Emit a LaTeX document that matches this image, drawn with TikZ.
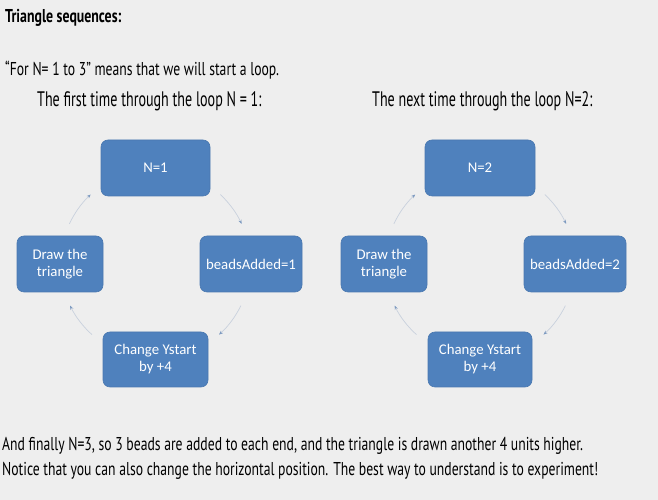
\documentclass[tikz,border=0pt]{standalone}
\usepackage{fontspec}
\usetikzlibrary{arrows.meta,calc}
\newfontfamily\slidefont[FakeStretch=0.735]{PT Sans}
\newfontfamily\slidebold[FakeStretch=0.745]{PT Sans Bold}
\newfontfamily\bigfont[FakeStretch=0.67]{PT Sans}
\newfontfamily\boxfont{Carlito}
\definecolor{bgcol}{HTML}{EEEEEE}
\definecolor{boxblue}{HTML}{4F81BD}
\definecolor{boxedge}{HTML}{4A78B0}
\definecolor{arcline}{HTML}{C9D1DD}
\definecolor{arctip}{HTML}{7D9AC0}
\begin{document}
\begin{tikzpicture}[x=1pt,y=1pt,
  stepbox/.style={draw=boxedge,line width=0.6pt,fill=boxblue,rounded corners=7pt,
    text=white,align=center,inner sep=0pt,
    font=\boxfont\fontsize{14.8pt}{17pt}\selectfont},
  cyc/.style={draw=arcline,line width=0.7pt,-{Stealth[length=4pt,width=3.2pt,color=arctip]}},
  txt/.style={anchor=base west,inner sep=0pt,text=black,font=\slidefont\fontsize{18.6pt}{22pt}\selectfont},
  bigtxt/.style={anchor=base west,inner sep=0pt,text=black,font=\bigfont\fontsize{21pt}{24pt}\selectfont}]
\useasboundingbox (0,0) rectangle (658,500);
\fill[bgcol] (0,0) rectangle (658,500);
% texts
\node[txt,font=\slidebold\fontsize{18.6pt}{22pt}\selectfont] (title) at (5,477) {Triangle sequences:};
\node[txt] (intro) at (5,424) {“For N= 1 to 3” means that we will start a loop.};
\node[bigtxt] (first) at (37,393) {The first time through the loop N = 1:};
\node[bigtxt] (next) at (372,393) {The next time through the loop N=2:};
\node[txt] (fin1) at (2,49) {And finally N=3, so 3 beads are added to each end, and the triangle is drawn another 4 units higher.};
\node[txt] (fin2) at (2,24) {Notice that you can also change the horizontal position. The best way to understand is to experiment!};
% left cycle
\coordinate (cl) at (155.5,236);
\node[stepbox,minimum width=109pt,minimum height=56pt] (nl) at (155.5,332) {N=1};
\node[stepbox,minimum width=102pt,minimum height=56pt] (bl) at (251,236) {beadsAdded=1};
\node[stepbox,minimum width=105pt,minimum height=55pt] (yl) at (155.5,140.5) {Change Ystart\\by +4};
\node[stepbox,minimum width=86pt,minimum height=56pt] (dl) at (60,236) {Draw the\\triangle};
\coordinate (l1) at ($(cl)+(47:95)$);
\coordinate (l2) at ($(cl)+(-26:95)$);
\coordinate (l3) at ($(cl)+(228:95)$);
\coordinate (l4) at ($(cl)+(155:95)$);
\draw[cyc] (l1) arc[start angle=47,end angle=25,radius=95];
\draw[cyc] (l2) arc[start angle=-26,end angle=-48,radius=95];
\draw[cyc] (l3) arc[start angle=228,end angle=206,radius=95];
\draw[cyc] (l4) arc[start angle=155,end angle=133,radius=95];
% right cycle
\coordinate (cr) at (480,236);
\node[stepbox,minimum width=110pt,minimum height=56pt] (nr) at (480,332) {N=2};
\node[stepbox,minimum width=102pt,minimum height=56pt] (br) at (575,236) {beadsAdded=2};
\node[stepbox,minimum width=104pt,minimum height=55pt] (yr) at (480,140.5) {Change Ystart\\by +4};
\node[stepbox,minimum width=86pt,minimum height=56pt] (dr) at (384,236) {Draw the\\triangle};
\coordinate (r1) at ($(cr)+(47:95)$);
\coordinate (r2) at ($(cr)+(-26:95)$);
\coordinate (r3) at ($(cr)+(228:95)$);
\coordinate (r4) at ($(cr)+(155:95)$);
\draw[cyc] (r1) arc[start angle=47,end angle=25,radius=95];
\draw[cyc] (r2) arc[start angle=-26,end angle=-48,radius=95];
\draw[cyc] (r3) arc[start angle=228,end angle=206,radius=95];
\draw[cyc] (r4) arc[start angle=155,end angle=133,radius=95];
\end{tikzpicture}
\end{document}
